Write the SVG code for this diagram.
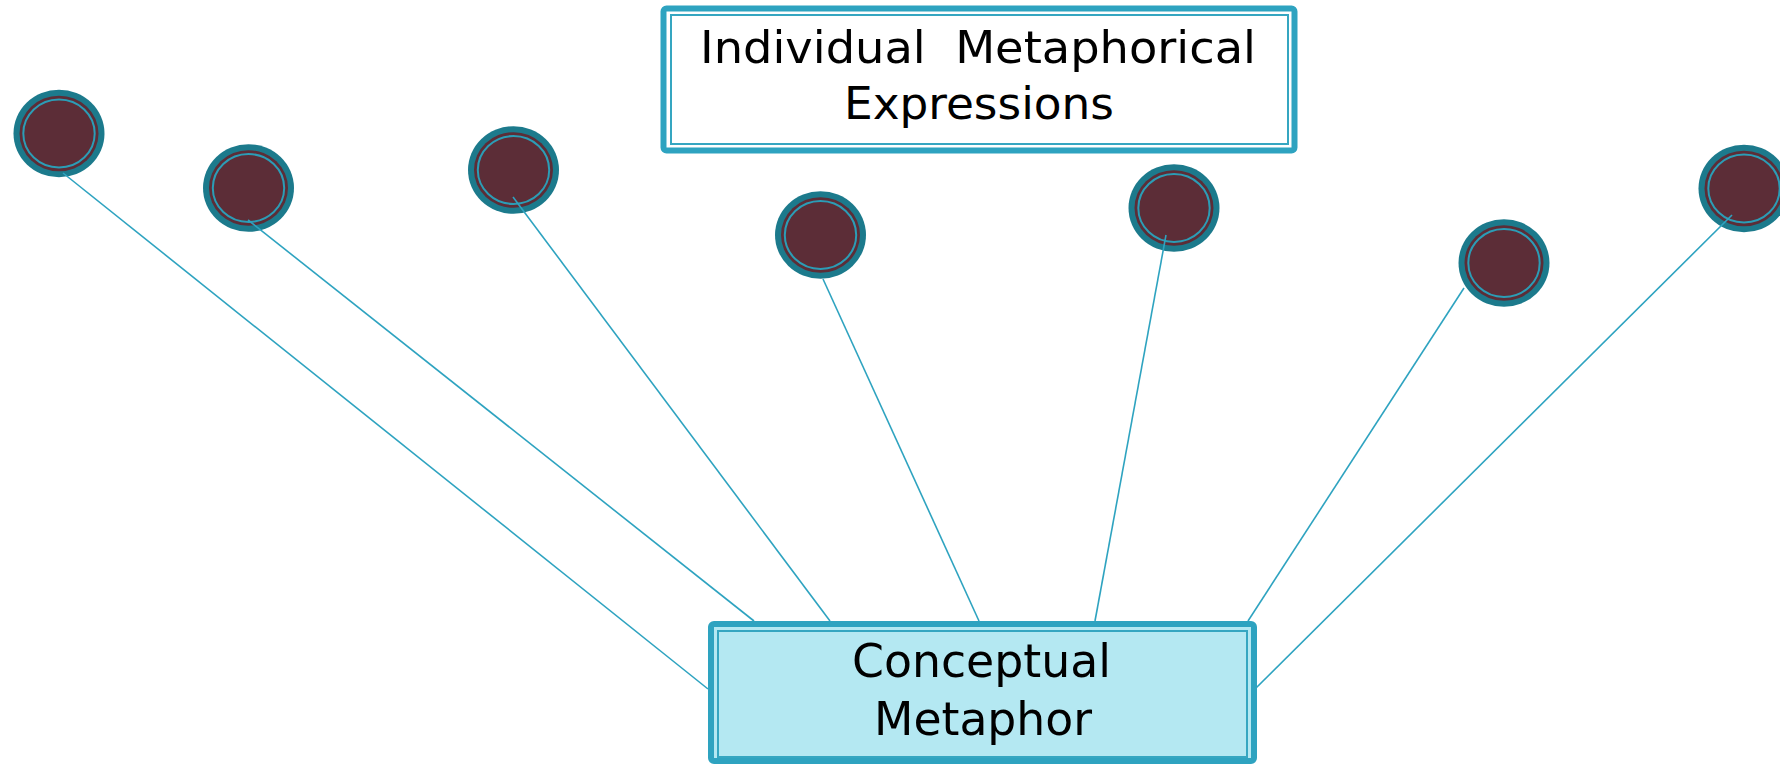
<svg xmlns="http://www.w3.org/2000/svg" xmlns:xlink="http://www.w3.org/1999/xlink" width="1780" height="765" viewBox="0 0 1780 765">
  <style>
    .edge { stroke: #2ea3c0; stroke-width: 1.6; fill: none; }
    .outer { stroke: #2ea3c0; stroke-width: 6; }
    .inner { stroke: #35a6c1; stroke-width: 2; fill: none; }
    .lbl { font-family: 'DejaVu Sans Condensed', 'DejaVu Sans', sans-serif; font-stretch: condensed; fill: #000; text-anchor: start; }
  </style>
  <defs>
    <g id="dot">
      <ellipse cx="0" cy="0" rx="45.5" ry="43.8" fill="#1c7a8c"/>
      <ellipse cx="0" cy="0" rx="39.5" ry="37.8" fill="#5c2d37"/>
      <ellipse cx="0" cy="0" rx="35.7" ry="34" fill="none" stroke="#2b9db6" stroke-width="2"/>
    </g>
  </defs>
  <rect width="1780" height="765" fill="#ffffff"/>

  <g id="dot1"><use xlink:href="#dot" href="#dot" x="59" y="133.5"/></g>
  <g id="dot2"><use xlink:href="#dot" href="#dot" x="248.5" y="188"/></g>
  <g id="dot3"><use xlink:href="#dot" href="#dot" x="513.5" y="170"/></g>
  <g id="dot4"><use xlink:href="#dot" href="#dot" x="820.5" y="235"/></g>
  <g id="dot5"><use xlink:href="#dot" href="#dot" x="1174" y="208"/></g>
  <g id="dot6"><use xlink:href="#dot" href="#dot" x="1504" y="263"/></g>
  <g id="dot7"><use xlink:href="#dot" href="#dot" x="1744" y="188.5"/></g>

  <g id="connectors">
    <line class="edge" x1="63" y1="173" x2="708" y2="689"/>
    <line class="edge" x1="248" y1="220" x2="754" y2="621"/>
    <line class="edge" x1="513" y1="197" x2="830" y2="621"/>
    <line class="edge" x1="823" y1="279" x2="979" y2="621"/>
    <line class="edge" x1="1166" y1="235" x2="1095" y2="621"/>
    <line class="edge" x1="1464" y1="288" x2="1248" y2="621"/>
    <line class="edge" x1="1732" y1="215" x2="1256" y2="688"/>
  </g>

  <g id="expressions">
    <rect class="outer" x="663.5" y="8.5" width="631" height="142" rx="3" fill="#ffffff" stroke-width="5"/>
    <rect class="inner" x="671" y="15" width="617" height="129"/>
    <text class="lbl" x="700" y="63" font-size="45" textLength="556" lengthAdjust="spacingAndGlyphs" xml:space="preserve">Individual  Metaphorical</text>
    <text class="lbl" x="844" y="119" font-size="45" textLength="270" lengthAdjust="spacingAndGlyphs">Expressions</text>
  </g>

  <g id="conceptual">
    <rect class="outer" x="711" y="624" width="543" height="137" rx="3" fill="#b4e8f2"/>
    <rect class="inner" x="718" y="631" width="529" height="126"/>
    <text class="lbl" x="852" y="677" font-size="47" textLength="259" lengthAdjust="spacingAndGlyphs">Conceptual</text>
    <text class="lbl" x="874" y="735" font-size="47" textLength="218" lengthAdjust="spacingAndGlyphs">Metaphor</text>
  </g>
</svg>
